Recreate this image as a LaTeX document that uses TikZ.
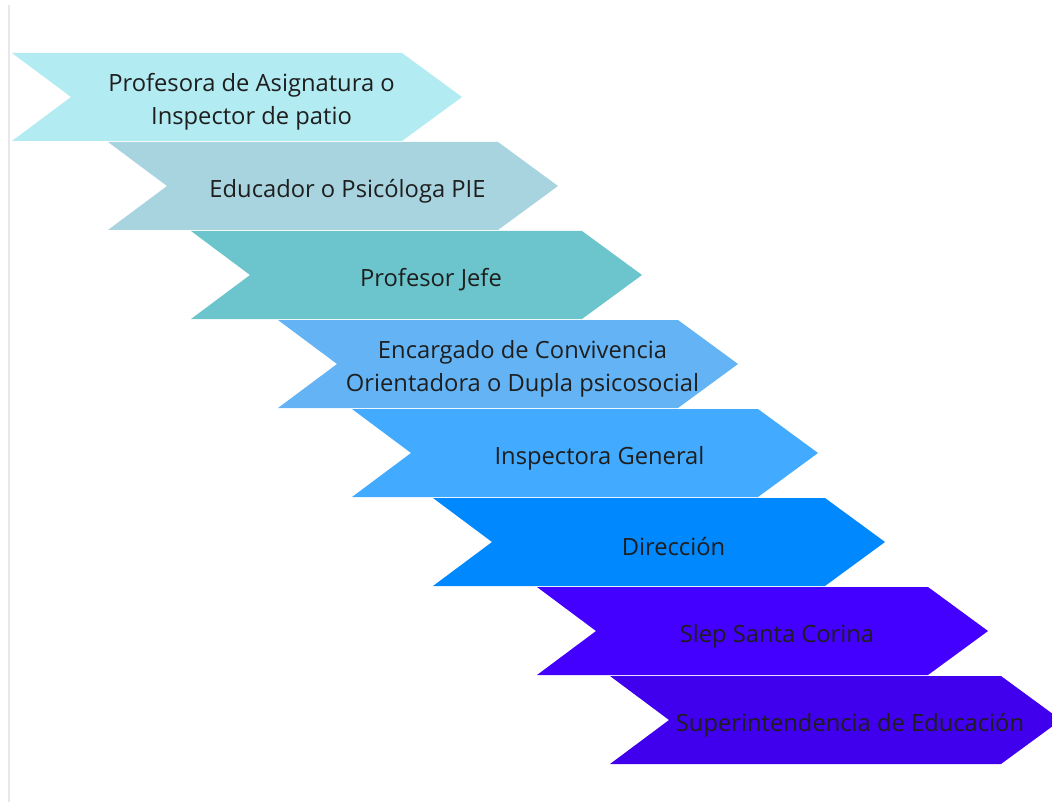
\documentclass[tikz,border=0pt]{standalone}
\usepackage{fontspec}
\setmainfont{Open Sans}
\usepackage{tikz}

\definecolor{cAsig}{HTML}{B2EBF2}
\definecolor{cPIE}{HTML}{A8D4E0}
\definecolor{cJefe}{HTML}{6CC5CC}
\definecolor{cConv}{HTML}{64B4F5}
\definecolor{cInsp}{HTML}{42AAFF}
\definecolor{cDir}{HTML}{0088FF}
\definecolor{cSlep}{HTML}{4400FF}
\definecolor{cSup}{HTML}{4000EE}
\definecolor{txt}{HTML}{1E1E1E}

% chevron: name, left x, top y, body length, colour, text
\newcommand{\levelchevron}[6]{%
	\fill[#5] (#2,-#3) -- (#2+#4,-#3) -- (#2+#4+60,-#3-44)
		-- (#2+#4,-#3-88) -- (#2,-#3-88) -- (#2+59,-#3-44) -- cycle;
	\node[lvltext] (#1) at (#2+0.5*#4+44.5,-#3-49) {#6};
}

\begin{document}
\begin{tikzpicture} [
	x=0.75pt,y=0.75pt,
	lvltext/.style={
		align=center,text=txt,font=\fontsize{17.8}{24.75}\selectfont,
		inner sep=0pt
	}
]
\useasboundingbox (0,0) rectangle (1052,-802);
\clip (0,0) rectangle (1052,-802);
\draw[line width=1.5pt,gray!18] (9,-5) -- (9,-802);
\levelchevron{asig}{12}{53}{390}{cAsig}{Profesora de Asignatura o\\Inspector de patio}
\levelchevron{pie}{108}{142}{390}{cPIE}{Educador o Psicóloga PIE}
\levelchevron{jefe}{191}{231}{391}{cJefe}{Profesor Jefe}
\levelchevron{conv}{278}{320}{400}{cConv}{Encargado de Convivencia\\Orientadora o Dupla psicosocial}
\levelchevron{insp}{352}{409}{406}{cInsp}{Inspectora General}
\levelchevron{dir}{433}{498}{392}{cDir}{Dirección}
\levelchevron{slep}{537}{587}{391}{cSlep}{Slep Santa Corina}
\levelchevron{sup}{610}{676}{391}{cSup}{Superintendencia de Educación}
\end{tikzpicture}
\end{document}
